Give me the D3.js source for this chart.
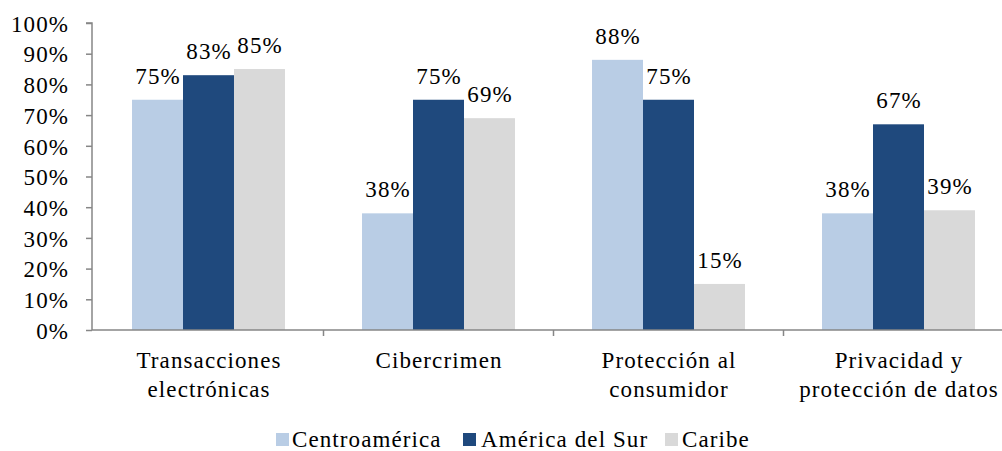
<!DOCTYPE html>
<html>
<head>
<meta charset="utf-8">
<script src="https://cdn.jsdelivr.net/npm/d3@7/dist/d3.min.js"></script>
<style>
  html, body { margin: 0; padding: 0; background: #ffffff; }
  svg { display: block; }
  text { font-family: "Liberation Serif", "Times New Roman", serif; fill: #000; }
</style>
</head>
<body>
<svg id="chart" width="1002" height="451"></svg>
<script>
// Categories (label lines) and series values in percent
const categories = [
  ["Transacciones", "electrónicas"],
  ["Cibercrimen"],
  ["Protección al", "consumidor"],
  ["Privacidad y", "protección de datos"]
];
const seriesNames = ["Centroamérica", "América del Sur", "Caribe"];
const centroamerica = [75, 38, 88, 38];
const americaDelSur = [83, 75, 75, 67];
const caribe = [85, 69, 15, 39];
const yTicks = [0, 10, 20, 30, 40, 50, 60, 70, 80, 90, 100];
const colors = ["#B9CDE5", "#1F497D", "#D9D9D9"];

const seriesValues = [centroamerica, americaDelSur, caribe];
const catKeys = categories.map(c => c.join(" "));

const svg = d3.select("#chart");
const FONT = 23, SPACING = 1.1;
const axisColor = "#868686";

const x = d3.scaleBand().domain(catKeys).range([93.5, 1013.5]).paddingInner(0).paddingOuter(0);
const xSub = d3.scaleBand().domain(seriesNames).range([0, x.bandwidth()])
  .paddingInner(0).paddingOuter(0.7556);
const y = d3.scaleLinear().domain([0, 100]).range([330, 23]);

// Bars
const g = svg.append("g");
seriesNames.forEach((s, si) => {
  g.selectAll(null)
    .data(catKeys.map((k, i) => ({ k, v: seriesValues[si][i] })))
    .enter().append("rect")
    .attr("x", d => x(d.k) + xSub(s))
    .attr("y", d => y(d.v))
    .attr("width", xSub.bandwidth())
    .attr("height", d => y(0) - y(d.v))
    .attr("fill", colors[si]);
});

// Value labels
seriesNames.forEach((s, si) => {
  g.selectAll(null)
    .data(catKeys.map((k, i) => ({ k, v: seriesValues[si][i] })))
    .enter().append("text")
    .attr("x", d => x(d.k) + xSub(s) + xSub.bandwidth() / 2 + SPACING / 2)
    .attr("y", d => y(d.v) - 16)
    .attr("text-anchor", "middle")
    .style("font-size", FONT + "px")
    .style("letter-spacing", SPACING + "px")
    .text(d => d.v + "%");
});

// Y axis
const yAxis = svg.append("g")
  .attr("transform", "translate(92,0)")
  .call(d3.axisLeft(y).tickValues(yTicks).tickSize(6).tickPadding(17).tickFormat(d => d + "%"));
yAxis.select(".domain").attr("stroke", axisColor).attr("stroke-width", 1.5).attr("d", `M-6,${y(100)}H0V${y(0)}`);
yAxis.selectAll(".tick line").attr("stroke", axisColor).attr("stroke-width", 1.5);
yAxis.selectAll(".tick text")
  .style("font-size", FONT + "px")
  .style("letter-spacing", SPACING + "px")
  .style("font-family", '"Liberation Serif", serif')
  .attr("fill", "#000")
  .attr("dy", "0.36em");

// X axis line with boundary ticks
const xg = svg.append("g");
xg.append("line")
  .attr("x1", 92).attr("x2", 1002).attr("y1", y(0)).attr("y2", y(0))
  .attr("stroke", axisColor).attr("stroke-width", 1.5);
const bounds = catKeys.map(k => x(k)).concat([x(catKeys[catKeys.length - 1]) + x.bandwidth()]);
xg.selectAll(null).data(bounds.slice(1)).enter().append("line")
  .attr("x1", d => d).attr("x2", d => d)
  .attr("y1", y(0)).attr("y2", y(0) + 6)
  .attr("stroke", axisColor).attr("stroke-width", 1.5);

// Category labels
categories.forEach((lines, i) => {
  const cx = x(catKeys[i]) + x.bandwidth() / 2 + SPACING / 2;
  const t = xg.append("text")
    .attr("text-anchor", "middle")
    .style("font-size", FONT + "px")
    .style("letter-spacing", SPACING + "px");
  lines.forEach((ln, j) => {
    t.append("tspan").attr("x", cx).attr("y", 368 + j * 29).text(ln);
  });
});

// Legend
const legendItems = [
  { name: seriesNames[0], sx: 276, tx: 292 },
  { name: seriesNames[1], sx: 463, tx: 481 },
  { name: seriesNames[2], sx: 665, tx: 682 }
];
const lg = svg.append("g");
legendItems.forEach((d, i) => {
  lg.append("rect").attr("x", d.sx).attr("y", 433).attr("width", 13).attr("height", 13).attr("fill", colors[i]);
  lg.append("text").attr("x", d.tx).attr("y", 447)
    .style("font-size", FONT + "px")
    .style("letter-spacing", SPACING + "px")
    .text(d.name);
});
</script>
</body>
</html>
